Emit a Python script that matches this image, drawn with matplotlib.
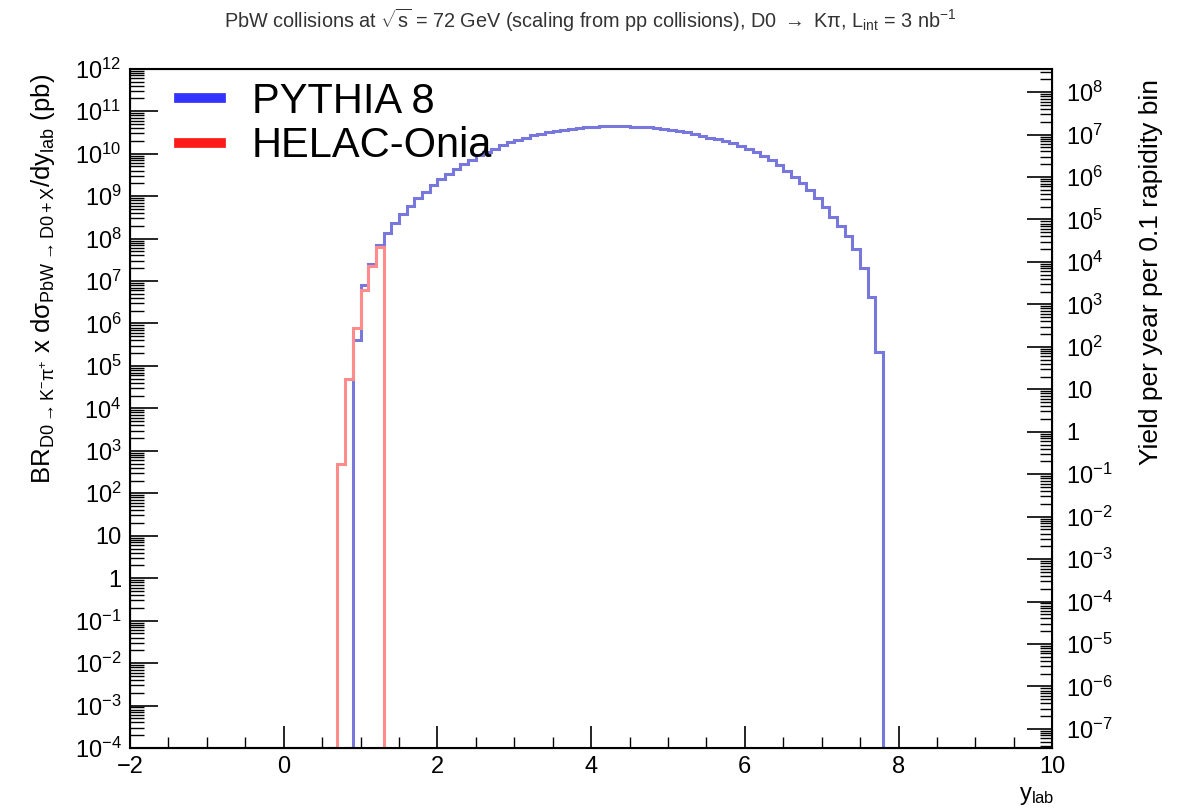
import numpy as np
import matplotlib
matplotlib.use("Agg")
import matplotlib.pyplot as plt
from matplotlib.ticker import LogLocator, NullFormatter, FuncFormatter, MultipleLocator
from matplotlib.lines import Line2D

plt.rcParams['font.family'] = ['Liberation Sans', 'DejaVu Sans']
plt.rcParams['mathtext.fontset'] = 'custom'
plt.rcParams['mathtext.rm'] = 'Liberation Sans'
plt.rcParams['mathtext.it'] = 'Liberation Sans:italic'
plt.rcParams['mathtext.bf'] = 'Liberation Sans:bold'
plt.rcParams['mathtext.default'] = 'regular'

# ---------------- data ----------------
bin_width = 0.1
x_range = (-2.0, 10.0)
y_floor = 1e-4
y_top = 1e12
yield_factor = 10 ** -3.45   # right-axis scale relative to left axis

pythia_start = 0.9
pythia_values = [
    4.0e5, 7.9e6, 2.5e7, 7.1e7, 1.35e8, 2.3e8, 3.8e8, 5.9e8, 8.9e8, 1.26e9,
    1.8e9, 2.5e9, 3.3e9, 4.4e9, 5.6e9, 7.2e9, 9.1e9, 1.1e10, 1.32e10, 1.58e10,
    1.86e10, 2.14e10, 2.4e10, 2.7e10, 2.95e10, 3.24e10, 3.47e10, 3.7e10, 3.9e10, 4.07e10,
    4.17e10, 4.27e10, 4.37e10, 4.37e10, 4.37e10, 4.37e10, 4.27e10, 4.27e10, 4.17e10, 3.98e10,
    3.8e10, 3.63e10, 3.39e10, 3.16e10, 2.88e10, 2.63e10, 2.4e10, 2.19e10, 2.0e10, 1.78e10,
    1.55e10, 1.32e10, 1.1e10, 8.9e9, 7.1e9, 5.5e9, 4.0e9, 2.8e9, 2.0e9, 1.38e9,
    8.9e8, 5.4e8, 3.3e8, 2.0e8, 1.12e8, 5.6e7, 2.0e7, 4.2e6, 2.1e5,
]

helac_start = 0.7
helac_values = [5.0e2, 5.0e4, 8.0e5, 6.0e6, 2.2e7, 6.3e7]

series_labels = ["PYTHIA 8", "HELAC-Onia"]
title_text = (r"PbW collisions at $\sqrt{s}$ = 72 GeV (scaling from pp collisions), "
              r"D0 $\rightarrow$ K$\pi$, L$_{int}$ = 3 nb$^{-1}$")
ylabel_left = (r"BR$_{D0\rightarrow K^{-}\pi^{+}}$ x d$\sigma_{PbW \rightarrow D0 + X}$"
               r"/dy$_{lab}$ (pb)")
ylabel_right = "Yield per year per 0.1 rapidity bin"
xlabel_text = r"y$_{lab}$"


def full_hist(start, values, x_end):
    n = int(round((x_end - x_range[0]) / bin_width))
    edges = np.round(x_range[0] + bin_width * np.arange(n + 1), 2)
    vals = np.full(n, y_floor)
    i0 = int(round((start - x_range[0]) / bin_width))
    vals[i0:i0 + len(values)] = values
    return edges, vals


pyt_edges, pyt_vals = full_hist(pythia_start, pythia_values, x_range[1])
hel_end = helac_start + bin_width * len(helac_values)
hel_edges, hel_vals = full_hist(helac_start, helac_values, hel_end)

blue_line = '#7878dc'
red_line = '#ff8c8c'

# ---------------- figure ----------------
fig = plt.figure(figsize=(11.81, 8.09), dpi=100)
ax = fig.add_axes([0.110, 0.0754, 0.781, 0.8396])

ax.stairs(pyt_vals, pyt_edges, baseline=y_floor, color=blue_line, lw=2.2)
ax.stairs(hel_vals, hel_edges, baseline=y_floor, color=red_line, lw=2.2)

ax.set_yscale('log')
ax.set_xlim(*x_range)
ax.set_ylim(y_floor, y_top)


def log_fmt(v, pos):
    e = int(round(np.log10(v)))
    if e == 0:
        return "1"
    if e == 1:
        return "10"
    return r"$10^{%d}$" % e


ax.yaxis.set_major_locator(LogLocator(base=10, numticks=30))
ax.yaxis.set_minor_locator(LogLocator(base=10, subs=np.arange(2, 10), numticks=30))
ax.yaxis.set_major_formatter(FuncFormatter(log_fmt))
ax.yaxis.set_minor_formatter(NullFormatter())
ax.xaxis.set_major_locator(MultipleLocator(2))
ax.xaxis.set_minor_locator(MultipleLocator(0.5))

ax.tick_params(axis='y', which='major', direction='in', length=20, width=1.2,
               labelsize=17, pad=6, right=False)
ax.tick_params(axis='y', which='minor', direction='in', length=10, width=1.0, right=False)
ax.tick_params(axis='x', which='major', direction='in', length=16, width=1.2,
               labelsize=17, pad=6, top=False)
ax.tick_params(axis='x', which='minor', direction='in', length=8, width=1.0, top=False)
for s in ax.spines.values():
    s.set_linewidth(1.5)

ax2 = ax.twinx()
ax2.set_yscale('log')
ax2.set_ylim(y_floor * yield_factor, y_top * yield_factor)
ax2.yaxis.set_major_locator(LogLocator(base=10, numticks=30))
ax2.yaxis.set_minor_locator(LogLocator(base=10, subs=np.arange(2, 10), numticks=30))
ax2.yaxis.set_major_formatter(FuncFormatter(log_fmt))
ax2.yaxis.set_minor_formatter(NullFormatter())
ax2.tick_params(axis='y', which='major', direction='in', length=18, width=1.2,
                labelsize=17, pad=10)
ax2.tick_params(axis='y', which='minor', direction='in', length=9, width=1.0)

fig.text(0.5, 0.975, title_text, ha='center', va='center', fontsize=14.3, color='#333333')
fig.text(0.036, 0.655, ylabel_left, rotation=90, ha='center', va='center', fontsize=18.5)
fig.text(0.975, 0.664, ylabel_right, rotation=90, ha='center', va='center', fontsize=19)
fig.text(0.893, 0.003, xlabel_text, ha='right', va='bottom', fontsize=17)

handles = [Line2D([], [], color='#3333ff', lw=7),
           Line2D([], [], color='#ff1a1a', lw=7)]
ax.legend(handles, series_labels, loc='upper left', bbox_to_anchor=(0.035, 1.005),
          frameon=False, fontsize=30, handlelength=1.0, handletextpad=0.75,
          labelspacing=0.1, borderaxespad=0.0)

fig.savefig('out.png', dpi=100)
